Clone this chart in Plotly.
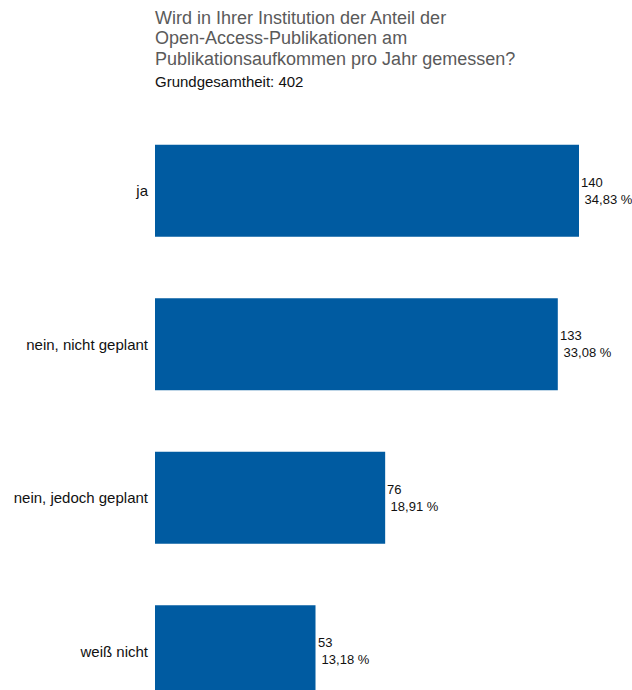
import plotly.graph_objects as go

# Survey answers and counts
categories = ["ja", "nein, nicht geplant", "nein, jedoch geplant", "weiß nicht"]
counts = [140, 133, 76, 53]
percents = ["34,83 %", "33,08 %", "18,91 %", "13,18 %"]
total = 402

title_lines = [
    "Wird in Ihrer Institution der Anteil der",
    "Open-Access-Publikationen am",
    "Publikationsaufkommen pro Jahr gemessen?",
]
subtitle = f"Grundgesamtheit: {total}"

W, H = 632, 690
M_LEFT, M_TOP = 155, 114
plot_h = H - M_TOP
band_px = 153.5
FONT = "Liberation Sans, Arial, Helvetica, sans-serif"
BLUE = "#005ba1"

fig = go.Figure(
    go.Bar(
        x=counts,
        y=categories,
        orientation="h",
        width=0.6,
        marker=dict(color=BLUE, line=dict(width=0)),
        hoverinfo="skip",
    )
)

# value labels beside each bar: count and share
for cat, n, p in zip(categories, counts, percents):
    fig.add_annotation(
        x=n, y=cat, xref="x", yref="y",
        text=f"{n}<br>\u00a0{p}",
        showarrow=False, xanchor="left", yanchor="middle", align="left",
        xshift=0, font=dict(family=FONT, size=13, color="#111"),
    )


def paper_y(px):
    return 1 + (M_TOP - px) / plot_h


for i, line in enumerate(title_lines):
    fig.add_annotation(
        x=0, xref="paper", y=paper_y(18 + 20.3 * i), yref="paper",
        text=line, showarrow=False, xanchor="left", yanchor="middle",
        xshift=-2, font=dict(family=FONT, size=18, color="#5a5a5a"),
    )
fig.add_annotation(
    x=0, xref="paper", y=paper_y(82), yref="paper",
    text=subtitle, showarrow=False, xanchor="left", yanchor="middle",
    xshift=-2, font=dict(family=FONT, size=15, color="#111"),
)

n_units = plot_h / band_px
fig.update_layout(
    width=W, height=H,
    margin=dict(l=M_LEFT, r=0, t=M_TOP, b=0, pad=0),
    paper_bgcolor="white", plot_bgcolor="white",
    showlegend=False,
    xaxis=dict(range=[0, (W - M_LEFT) / (579 - M_LEFT) * 140], visible=False, fixedrange=True),
    yaxis=dict(
        type="category", categoryorder="array", categoryarray=categories,
        range=[-0.5 + n_units, -0.5],
        showgrid=False, zeroline=False, showline=False, ticks="",
        ticklabelstandoff=6,
        tickfont=dict(family=FONT, size=15, color="#111"),
        fixedrange=True,
    ),
)

fig.write_html("out.html", config={"displayModeBar": False})
